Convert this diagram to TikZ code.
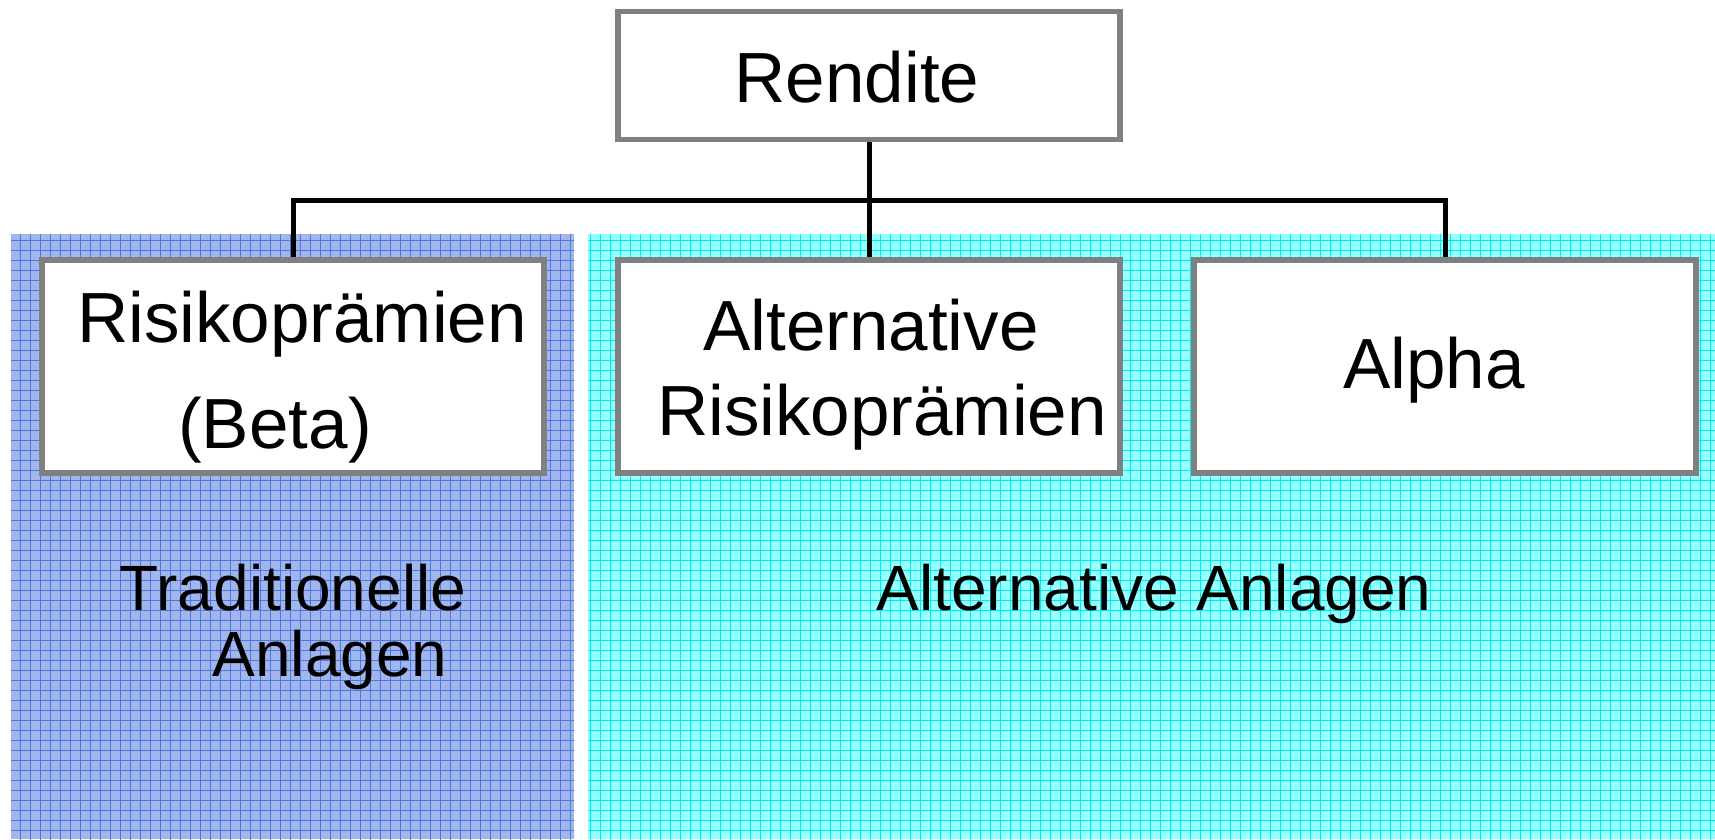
\documentclass[tikz,border=0pt]{standalone}
\usepackage{fontspec}
\setmainfont{Liberation Sans}
\definecolor{bluefill}{RGB}{162,182,238}
\definecolor{blueline}{RGB}{80,118,226}
\definecolor{cyanfill}{RGB}{150,255,255}
\definecolor{cyanline}{RGB}{0,236,236}
\definecolor{boxgray}{RGB}{128,128,128}
\tikzset{
  box/.style={draw=boxgray, line width=5.5pt, fill=white, rectangle, inner sep=0pt,
    minimum width=502pt, minimum height=213pt},
  boxtext/.style={anchor=base, inner sep=0pt, font=\fontsize{71}{80}\selectfont},
  regiontext/.style={anchor=base, inner sep=0pt, font=\fontsize{64}{72}\selectfont},
  conn/.style={draw=black, line width=5pt},
  gridline/.style={line width=1pt}
}
\begin{document}
\begin{tikzpicture}[x=1pt,y=-1pt]
\useasboundingbox (0,0) rectangle (1715,839);
% regions
\fill[bluefill] (11,234) rectangle (574,839);
\begin{scope}
  \clip (11,234) rectangle (574,839);
  \draw[gridline, blueline, step=10pt, xshift=0.5pt, yshift=-0.5pt] (0,230) grid (580,845);
\end{scope}
\fill[cyanfill] (588,234) rectangle (1715,839);
\begin{scope}
  \clip (588,234) rectangle (1715,839);
  \draw[gridline, cyanline, step=10pt, xshift=0.5pt, yshift=-0.5pt] (580,230) grid (1720,845);
\end{scope}
% boxes
\node[box, minimum height=128pt] (rendite) at (869,75.5) {};
\node[box] (risk) at (293,366.5) {};
\node[box] (alt) at (869,366.5) {};
\node[box] (alpha) at (1445,366.5) {};
\coordinate (bus) at (869,200);
% connectors
\draw[conn] (rendite.south) -- (alt.north);
\draw[conn] (risk.north) |- (bus) -| (alpha.north);
% texts
\node[boxtext] (trendite) at (857,102) {Rendite};
\node[boxtext] (trisk1) at (302,342) {Risikoprämien};
\node[boxtext] (trisk2) at (275,448) {(Beta)};
\node[boxtext] (talt1) at (871,350) {Alternative};
\node[boxtext] (talt2) at (882,435) {Risikoprämien};
\node[boxtext] (talpha) at (1434,388) {Alpha};
\node[regiontext] (ttrad1) at (293,610) {Traditionelle};
\node[regiontext] (ttrad2) at (330,676) {Anlagen};
\node[regiontext] (taltanl) at (1154,610) {Alternative Anlagen};
\end{tikzpicture}
\end{document}
